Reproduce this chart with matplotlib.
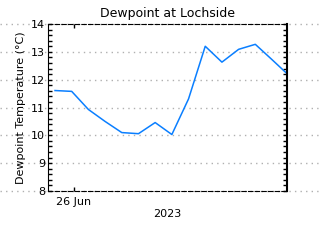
import matplotlib
matplotlib.use('Agg')
import matplotlib.pyplot as plt
import matplotlib.transforms as mtransforms
import pandas as pd
import numpy as np

# hourly dewpoint readings (hours relative to 26 Jun 2023 00:00)
hours = [-1.14, -0.14, 0.86, 1.86, 2.86, 3.86, 4.86, 5.86, 6.86, 7.86, 8.86, 9.86, 10.86, 11.86, 12.7]
dewpoint = [11.61, 11.58, 10.93, 10.5, 10.1, 10.06, 10.46, 10.03, 11.31, 13.2, 12.63, 13.09, 13.27, 12.72, 12.25]
yticks = [8, 9, 10, 11, 12, 13, 14]

t0 = pd.Timestamp('2023-06-26 00:00')
times = [t0 + pd.Timedelta(hours=h) for h in hours]

fig = plt.figure(figsize=(3.2, 2.4), dpi=100)
ax = fig.add_axes([0.15, 0.204, 0.748, 0.696])

ax.plot(times, dewpoint, color='#0a7fff', lw=1.1, zorder=3)

ax.set_xlim(t0 + pd.Timedelta(hours=-1.56), t0 + pd.Timedelta(hours=12.78))
ax.set_ylim(8, 14)
ax.set_yticks(yticks)
ax.set_yticklabels([str(v) for v in yticks])
ax.set_yticks(np.arange(8, 14.01, 0.2), minor=True)
ax.set_xticks([t0])
ax.set_xticklabels(['26 Jun'])

# dotted grid running across the whole figure
trans = mtransforms.blended_transform_factory(fig.transFigure, ax.transData)
for y in yticks:
    ax.plot([0, 1], [y, y], transform=trans, color='#b0b0b0', ls=(0, (1, 3)),
            lw=1, clip_on=False, zorder=1)

ax.spines['top'].set_linestyle((0, (4, 2)))
ax.spines['bottom'].set_linestyle((0, (4, 2)))
ax.spines['right'].set_linewidth(1.5)
for s in ax.spines.values():
    s.set_zorder(4)

ax.tick_params(axis='y', which='both', direction='in', right=True, left=True,
               length=3, width=1, labelsize=8, pad=2)
ax.tick_params(axis='x', which='both', direction='in', top=True, bottom=True,
               length=3, width=1, labelsize=8, pad=4)

ax.set_title('Dewpoint at Lochside', fontsize=9, pad=5)
ax.set_ylabel('Dewpoint Temperature (°C)', fontsize=8, labelpad=4)
ax.set_xlabel('2023', fontsize=8, labelpad=2)

fig.savefig('out.png', dpi=100)
